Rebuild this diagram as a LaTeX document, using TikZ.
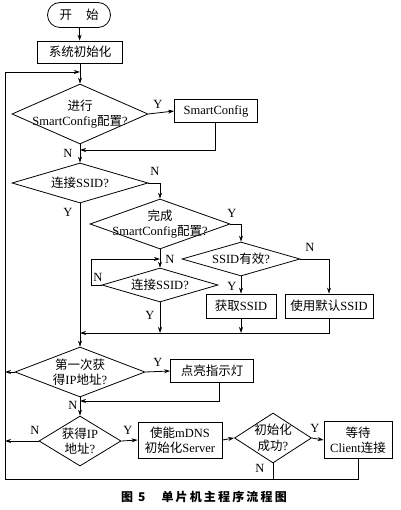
\documentclass[tikz,border=0pt]{standalone}
\usepackage{fontspec}
\setmainfont{Liberation Serif}
\newfontfamily\zh{Noto Sans CJK SC}
\newfontfamily\zhcap[LetterSpace=18]{Noto Sans CJK SC}
\usetikzlibrary{arrows.meta,shapes.geometric}
\tikzset{
  >={Stealth[length=6pt,width=4pt]},
  every path/.style={line width=0.8pt},
  txt/.style={font=\fontsize{12.5}{15.5}\selectfont, align=center, inner sep=0pt},
  box/.style={draw, rectangle, inner sep=0pt, txt},
  dia/.style={draw, diamond, inner sep=0pt},
  yn/.style={font=\fontsize{12.5}{14}\selectfont, inner sep=0pt},
  conn/.style={->}
}
\begin{document}
\begin{tikzpicture}[x=1pt,y=-1pt]
\useasboundingbox[fill=white] (0,0) rectangle (400,510);
% nodes
\node[box, rounded corners=12.5pt, minimum width=63, minimum height=25] (start) at (79,15) {{\zh 开\hspace{14pt}始}};
\node[box, minimum width=85, minimum height=22] (init) at (80,52) {{\zh 系统初始化}};
\node[dia, minimum width=136, minimum height=60] (d1) at (80,114) {};
\node[txt] at (d1) {{\zh 进行}\\SmartConfig{\zh 配置}?};
\node[box, minimum width=83, minimum height=23] (sc) at (216,111) {SmartConfig};
\node[dia, minimum width=136, minimum height=40] (d2) at (80,183) {};
\node[txt] at (d2) {{\zh 连接}SSID?};
\node[dia, minimum width=140, minimum height=50] (d3) at (160,224) {};
\node[txt] at (d3) {{\zh 完成}\\SmartConfig{\zh 配置}?};
\node[dia, minimum width=118, minimum height=34] (d4) at (241,259) {};
\node[txt] at (d4) {SSID{\zh 有效}?};
\node[dia, minimum width=116, minimum height=34] (d5) at (160,285) {};
\node[txt] at (d5) {{\zh 连接}SSID?};
\node[box, minimum width=70, minimum height=24] (getssid) at (241,306) {{\zh 获取}SSID};
\node[box, minimum width=88, minimum height=24] (defssid) at (329,306) {{\zh 使用默认}SSID};
\node[dia, minimum width=130, minimum height=50] (d6) at (80,372) {};
\node[txt] at (d6) {{\zh 第一次获}\\{\zh 得}IP{\zh 地址}?};
\node[box, minimum width=83, minimum height=23] (led) at (212,371) {{\zh 点亮指示灯}};
\node[dia, minimum width=82, minimum height=50] (d7) at (80,441) {};
\node[txt] at (d7) {{\zh 获得}IP\\{\zh 地址}?};
\node[box, minimum width=84, minimum height=36] (mdns) at (180,440) {{\zh 使能}mDNS\\{\zh 初始化}Server};
\node[dia, minimum width=77, minimum height=50] (d8) at (273,438) {};
\node[txt] at (d8) {{\zh 初始化}\\{\zh 成功}?};
\node[box, minimum width=68, minimum height=37] (wait) at (358,440) {{\zh 等待}\\Client{\zh 连接}};
\node[font=\fontsize{12}{14}\selectfont\bfseries, inner sep=0pt] (cap) at (204,497) {\zhcap 图\hspace{5pt}5\hspace{16pt}单片机主程序流程图};
% junction coordinates
\coordinate (jt) at (80,72);
\coordinate (lt) at (5,72);
\coordinate (lb) at (5,479);
\coordinate (j1) at (80,150);
\coordinate (j2) at (160,259);
\coordinate (j3) at (160,333);
\coordinate (j4) at (241,333);
\coordinate (j5) at (80,333);
\coordinate (j6) at (80,401);
\coordinate (l6) at (5,372);
\coordinate (l7) at (5,441);
\coordinate (b8) at (273,479);
% connectors
\draw[conn] (start) -- (init);
\draw[conn] (init) -- (d1);
\draw[conn] (wait.south) |- (lb) -- (lt) -- (jt);
\draw[conn] (d1.east) -- (sc.west);
\draw[conn] ([xshift=-1pt]sc.south) |- (j1);
\draw[conn] (d1.south) -- (d2.north);
\draw[conn] (d2.east) -| (d3.north);
\draw[conn] (d2.south) -- (d6.north);
\draw[conn] (d3.east) -| (d4.north);
\draw[conn] (d3.south) -- (d5.north);
\draw[conn] (d5.west) -- ++(-10,0) |- (j2);
\draw[conn] (d4.east) -| (defssid.north);
\draw[conn] (d4.south) -- (getssid.north);
\draw[conn] (d5.south) -- (j3);
\draw[conn] (getssid.south) -- (j4);
\draw[conn] (defssid.south) |- (j5);
\draw[conn] (d6.east) -- (led.west);
\draw[conn] ([xshift=7pt]led.south) |- (j6);
\draw[conn] (d6.west) -- (l6);
\draw[conn] (d6.south) -- (d7.north);
\draw[conn] (d7.west) -- (l7);
\draw[conn] (d7.east) -- (mdns.west);
\draw[conn] (mdns.east) -- (d8.west);
\draw[conn] (d8.east) -- (wait.west);
\draw (d8.south) -- (b8);
% Y/N labels
\node[yn] at (158,104) {Y};
\node[yn] at (68,153) {N};
\node[yn] at (155,171) {N};
\node[yn] at (68,212) {Y};
\node[yn] at (232,213) {Y};
\node[yn] at (170,259) {N};
\node[yn] at (310,247) {N};
\node[yn] at (232,286) {Y};
\node[yn] at (98,277) {N};
\node[yn] at (150,315) {Y};
\node[yn] at (158,362) {Y};
\node[yn] at (73,405) {N};
\node[yn] at (35,430) {N};
\node[yn] at (128,430) {Y};
\node[yn] at (315,428) {Y};
\node[yn] at (260,468) {N};
\end{tikzpicture}
\end{document}
